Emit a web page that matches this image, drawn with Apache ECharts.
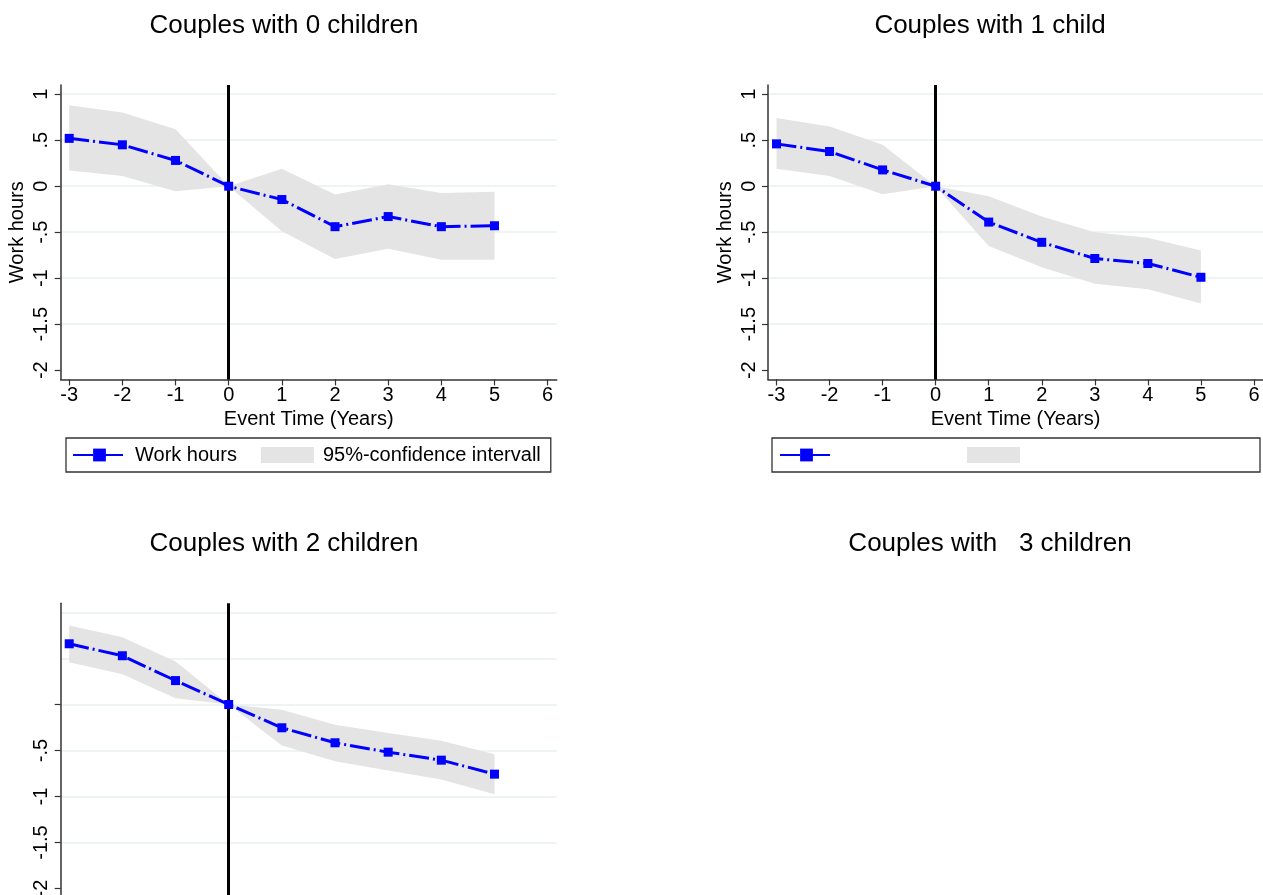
<!DOCTYPE html>
<html>
<head>
<meta charset="utf-8">
<script src="https://cdn.jsdelivr.net/npm/echarts@6/dist/echarts.min.js"></script>
<style>
  html, body { margin: 0; padding: 0; background: #fff; }
  #main { width: 1263px; height: 895px; }
</style>
</head>
<body>
<div id="main"></div>
<script>
// event time on the x axis
var xVals = [-3, -2, -1, 0, 1, 2, 3, 4, 5];

// couples with 0 children
var est0 = [0.52, 0.45, 0.28, 0, -0.145, -0.44, -0.33, -0.44, -0.43];
var hi0 = [0.88, 0.80, 0.62, 0, 0.19, -0.09, 0.02, -0.075, -0.06];
var lo0 = [0.17, 0.11, -0.055, 0, -0.49, -0.79, -0.68, -0.80, -0.80];

// couples with 1 child
var est1 = [0.46, 0.377, 0.177, 0, -0.39, -0.61, -0.786, -0.84, -0.99];
var hi1 = [0.74, 0.65, 0.45, 0, -0.11, -0.33, -0.50, -0.56, -0.70];
var lo1 = [0.19, 0.11, -0.087, 0, -0.65, -0.88, -1.06, -1.12, -1.275];

// couples with 2 children
var est2 = [0.66, 0.53, 0.26, 0, -0.253, -0.416, -0.518, -0.605, -0.757];
var hi2 = [0.86, 0.73, 0.467, 0, -0.058, -0.22, -0.31, -0.395, -0.54];
var lo2 = [0.46, 0.33, 0.068, 0, -0.446, -0.616, -0.717, -0.815, -0.975];

// ticks
var xTickVals = [-3, -2, -1, 0, 1, 2, 3, 4, 5, 6];
var yTickVals = [-2, -1.5, -1, -0.5, 0, 0.5, 1];
var yTickText = ['-2', '-1.5', '-1', '-.5', '0', '.5', '1'];
var yTickVals3 = [-2, -1.5, -1, -0.5, 0];
var yLabelVals3 = [-2, -1.5, -1, -0.5];
var gridLineVals = [1, 0.5, 0, -0.5, -1, -1.5];

var titles = ['Couples with 0 children', 'Couples with 1 child', 'Couples with 2 children', 'Couples with   3 children'];
var lineName = 'Work hours';
var bandName = '95%-confidence intervall';

var font = 'Liberation Sans, Arial, sans-serif';
var axisColor = '#333';
var bandColor = '#E4E4E4';
var blue = '#0000FF';

var myChart = echarts.init(document.getElementById('main'));

function yLabel(v) {
    for (var i = 0; i < yTickVals.length; i++) {
        if (Math.abs(yTickVals[i] - v) < 1e-9) return yTickText[i];
    }
    return '';
}

function makeX(gi) {
    return {
        type: 'value', gridIndex: gi, min: -3.16, max: 6.17,
        name: 'Event Time (Years)', nameLocation: 'middle', nameGap: 30,
        nameTextStyle: { fontSize: 20, color: '#000', fontFamily: font },
        axisLine: { show: true, onZero: false, lineStyle: { color: axisColor, width: 1.5 } },
        axisTick: { show: true, length: 6, customValues: xTickVals, lineStyle: { color: axisColor, width: 1.2 } },
        axisLabel: { customValues: xTickVals, fontSize: 20, color: '#000', fontFamily: font, margin: 6 },
        splitLine: { show: false }
    };
}

function makeY(gi, ticks, labels, withName) {
    return {
        type: 'value', gridIndex: gi, min: -2.1, max: 1.1,
        name: withName ? 'Work hours' : '', nameLocation: 'middle', nameGap: 33,
        nameTextStyle: { fontSize: 20, color: '#000', fontFamily: font },
        axisLine: { show: true, onZero: false, lineStyle: { color: axisColor, width: 1.5 } },
        axisTick: { show: true, length: 6, customValues: ticks, lineStyle: { color: axisColor, width: 1.2 } },
        axisLabel: { customValues: labels, rotate: 90, fontSize: 20, color: '#000', fontFamily: font, margin: 9, formatter: yLabel },
        splitLine: { show: false }
    };
}

function gridSeries(gi) {
    return {
        type: 'line', name: 'grid', xAxisIndex: gi, yAxisIndex: gi, data: [], silent: true,
        markLine: {
            z: 0, silent: true, symbol: ['none', 'none'], label: { show: false },
            lineStyle: { color: '#E8F0F2', width: 1.5, type: 'solid' },
            emphasis: { disabled: true },
            data: gridLineVals.map(function (v) { return { yAxis: v }; })
        }
    };
}

function bandSeries(gi, lo, hi) {
    return {
        type: 'custom', name: bandName, xAxisIndex: gi, yAxisIndex: gi, z: 1, silent: true,
        itemStyle: { color: bandColor },
        data: xVals.map(function (x, i) { return [x, lo[i], hi[i]]; }),
        encode: { x: 0, y: [1, 2] },
        renderItem: function (params, api) {
            if (params.dataIndex !== 0) return;
            var pts = [];
            for (var i = 0; i < xVals.length; i++) pts.push(api.coord([xVals[i], hi[i]]));
            for (var j = xVals.length - 1; j >= 0; j--) pts.push(api.coord([xVals[j], lo[j]]));
            return { type: 'polygon', shape: { points: pts }, style: { fill: bandColor } };
        }
    };
}

function lineSeries(gi, est) {
    return {
        type: 'line', name: lineName, xAxisIndex: gi, yAxisIndex: gi, z: 3,
        data: xVals.map(function (x, i) { return [x, est[i]]; }),
        symbol: 'rect', symbolSize: 9,
        itemStyle: { color: blue },
        lineStyle: { color: blue, width: 3, type: [20, 4, 2, 4] },
        markLine: {
            z: 2, silent: true, symbol: ['none', 'none'], label: { show: false },
            lineStyle: { color: '#000', width: 3, type: 'solid' },
            emphasis: { disabled: true },
            data: [{ xAxis: 0 }]
        }
    };
}

var titleLeft = [284, 990, 284, 990];
var titleTop = [13, 13, 531, 531];

var option = {
    animation: false,
    backgroundColor: '#fff',
    title: titles.map(function (t, i) {
        return {
            text: t, left: titleLeft[i], top: titleTop[i], textAlign: 'center', padding: 0,
            textStyle: { fontSize: 26, fontWeight: 'normal', color: '#000', fontFamily: font }
        };
    }),
    legend: [{
        left: 66, top: 438, orient: 'horizontal',
        padding: [7, 10, 7, 6], itemGap: 24, itemWidth: 53, itemHeight: 16,
        borderColor: axisColor, borderWidth: 1.3, selectedMode: false,
        textStyle: { fontSize: 20, color: '#000', fontFamily: font, padding: [0, 0, 0, 4] },
        data: [{ name: lineName }, { name: bandName, icon: 'rect', itemStyle: { color: bandColor } }]
    }, {
        left: 772, top: 438, orient: 'horizontal',
        padding: [9, 240, 9, 7], itemGap: 133, itemWidth: 53, itemHeight: 16,
        borderColor: axisColor, borderWidth: 1.3, selectedMode: false,
        formatter: function () { return ''; },
        textStyle: { fontSize: 20, color: '#000', fontFamily: font },
        data: [{ name: lineName }, { name: bandName, icon: 'rect', itemStyle: { color: bandColor } }]
    }],
    grid: [
        { left: 60.7, top: 85, width: 496, height: 294.4, outerBoundsMode: 'none' },
        { left: 768, top: 85, width: 495, height: 294.4, outerBoundsMode: 'none' },
        { left: 60.7, top: 603.3, width: 496, height: 294.4, outerBoundsMode: 'none' }
    ],
    xAxis: [makeX(0), makeX(1), makeX(2)],
    yAxis: [
        makeY(0, yTickVals, yTickVals, true),
        makeY(1, yTickVals, yTickVals, true),
        makeY(2, yTickVals3, yLabelVals3, false)
    ],
    series: [
        gridSeries(0), bandSeries(0, lo0, hi0), lineSeries(0, est0),
        gridSeries(1), bandSeries(1, lo1, hi1), lineSeries(1, est1),
        gridSeries(2), bandSeries(2, lo2, hi2), lineSeries(2, est2)
    ]
};

myChart.setOption(option);
</script>
</body>
</html>
